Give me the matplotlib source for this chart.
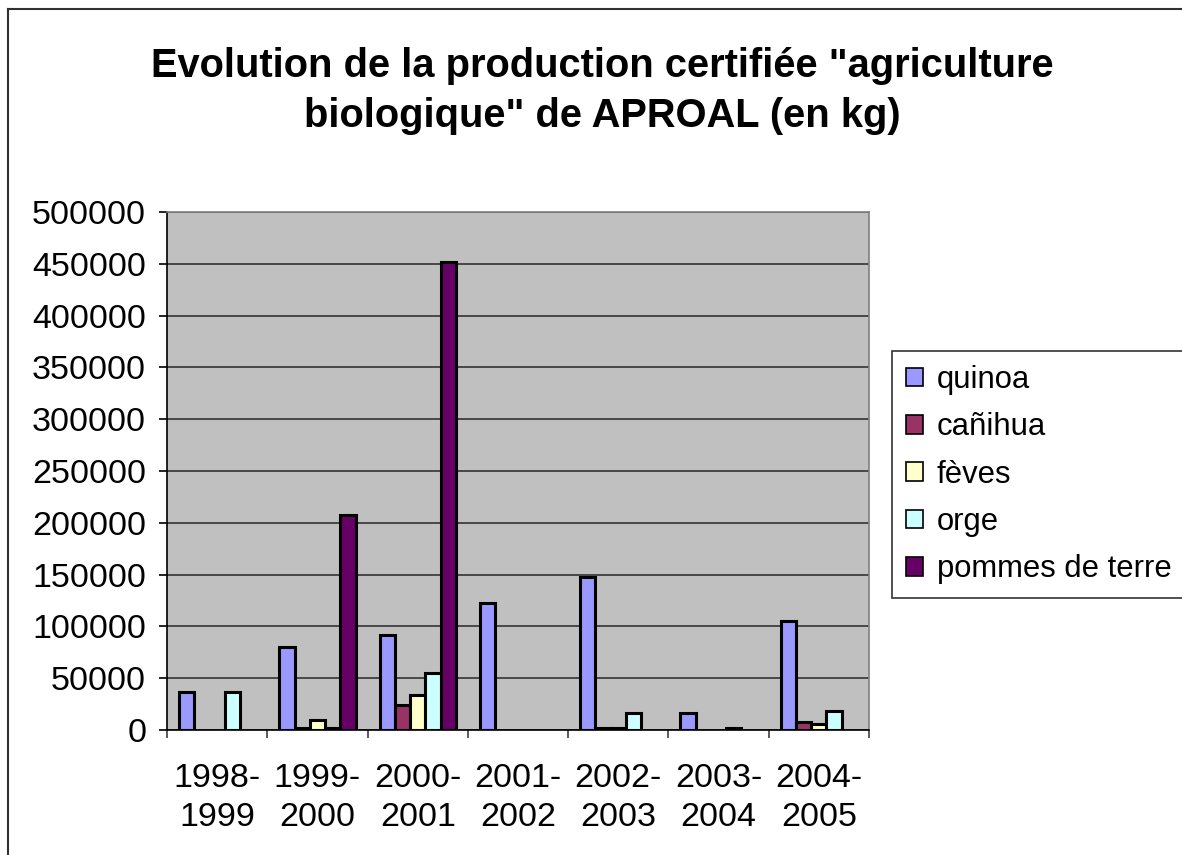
import numpy as np
import matplotlib.pyplot as plt
from matplotlib.patches import Patch
from matplotlib.lines import Line2D

plt.rcParams['font.family'] = ['Liberation Sans', 'DejaVu Sans']

# Données (kg)
campagnes = ['1998-\n1999', '1999-\n2000', '2000-\n2001', '2001-\n2002',
             '2002-\n2003', '2003-\n2004', '2004-\n2005']
quinoa = [37000, 80000, 92000, 123000, 148000, 16000, 105000]
canihua = [np.nan, 1500, 24000, np.nan, 1500, np.nan, 8000]
feves = [np.nan, 10000, 34000, np.nan, 1500, np.nan, 6000]
orge = [37000, 1500, 55000, np.nan, 16000, 1500, 18000]
pommes_de_terre = [np.nan, 208000, 452000, np.nan, np.nan, np.nan, np.nan]

series = [quinoa, canihua, feves, orge, pommes_de_terre]
noms = ['quinoa', 'cañihua', 'fèves', 'orge', 'pommes de terre']
couleurs = ['#9999FF', '#993366', '#FFFFCC', '#CCFFFF', '#660066']

W, H = 1182, 855
fig = plt.figure(figsize=(W / 100, H / 100), dpi=100)
ax = fig.add_axes([167 / W, (H - 730) / H, (869 - 167) / W, (730 - 212) / H])
ax.set_facecolor('#C0C0C0')

x = np.arange(len(campagnes))
largeur = 0.152
for j, (vals, nom, c) in enumerate(zip(series, noms, couleurs)):
    ax.bar(x + (j - 2) * largeur, vals, largeur, color=c, edgecolor='black',
           linewidth=2.2, label=nom, zorder=3)

ax.set_xlim(-0.5, len(campagnes) - 0.5)
ax.set_ylim(0, 500000)
ax.set_yticks(np.arange(0, 500001, 50000))
ax.set_yticklabels([str(v) for v in range(0, 500001, 50000)])
ax.yaxis.grid(True, color='#333333', linewidth=1.2, zorder=1)
ax.set_axisbelow(True)

ax.set_xticks(x)
ax.set_xticklabels(campagnes, linespacing=1.3)
ax.set_xticks(np.arange(-0.5, len(campagnes)), minor=True)
ax.tick_params(axis='x', which='major', length=0, pad=24, labelsize=24.5)
ax.tick_params(axis='x', which='minor', length=6, width=1.2, color='#404040', direction='out')
ax.tick_params(axis='y', length=6, width=1.2, pad=9, labelsize=24.5)

for s in ['top', 'right']:
    ax.spines[s].set_color('#808080')
    ax.spines[s].set_linewidth(1.2)
for s in ['left', 'bottom']:
    ax.spines[s].set_color('black')
    ax.spines[s].set_linewidth(1.2)

fig.text(602 / W, 1 - 47 / H,
         'Evolution de la production certifiée "agriculture\nbiologique" de APROAL (en kg)',
         ha='center', va='top', fontsize=28.7, fontweight='bold', linespacing=1.4)

handles = [Patch(facecolor=c, edgecolor='black', linewidth=1.2) for c in couleurs]
leg = fig.legend(handles, noms, loc='upper left', bbox_to_anchor=(892 / W, 1 - 351 / H),
                 fontsize=22.3, frameon=True, fancybox=False, shadow=False,
                 handlelength=0.55, handleheight=0.55, handletextpad=0.45,
                 labelspacing=0.56, borderpad=0.45, borderaxespad=0)
leg.get_frame().set_edgecolor('black')
leg.get_frame().set_linewidth(1.2)

# cadre de la figure
fig.add_artist(Line2D([8 / W, 8 / W], [0, 1 - 9 / H], color='#303030', lw=1.5))
fig.add_artist(Line2D([8 / W, 1], [1 - 9 / H, 1 - 9 / H], color='#303030', lw=1.5))

fig.savefig('out.png', dpi=100)
